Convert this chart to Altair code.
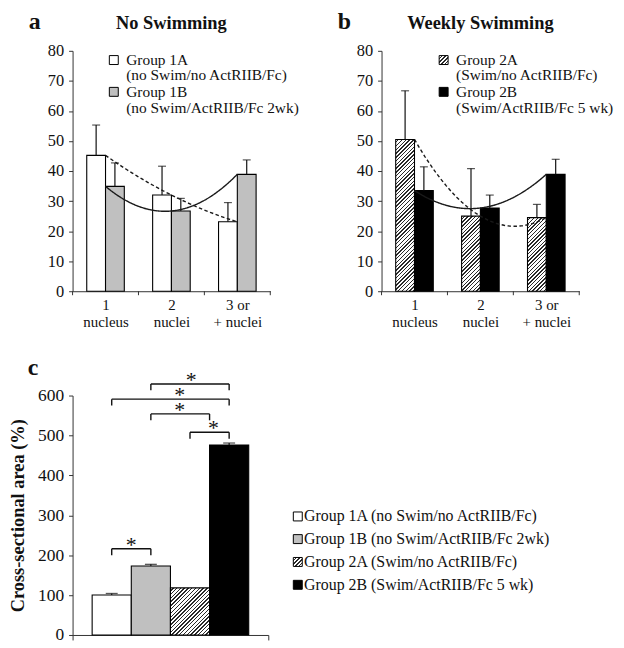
import json
import altair as alt
import pandas as pd

FONT = "Liberation Serif"
INK = "#111111"
AXIS_INK = "#333333"
GRAY = "#c0c0c0"

# ---------------- data ----------------
categories = ["1\nnucleus", "2\nnuclei", "3 or\n+ nuclei"]
category_index = [1, 2, 3]
category_bounds = [0.5, 1.5, 2.5, 3.5]

names_a = ["Group 1A", "Group 1B"]
names_b = ["Group 2A", "Group 2B"]

g1a_mean = [45.2, 32.0, 23.1]
g1a_upper = [55.3, 41.6, 29.5]
g1b_mean = [34.9, 26.7, 38.9]
g1b_upper = [42.7, 30.9, 43.7]
g2a_mean = [50.5, 25.0, 24.5]
g2a_upper = [66.7, 40.8, 28.9]
g2b_mean = [33.5, 27.7, 38.9]
g2b_upper = [41.4, 32.0, 43.9]

legend_a = [["Group 1A", "(no Swim/no ActRIIB/Fc)"], ["Group 1B", "(no Swim/ActRIIB/Fc 2wk)"]]
legend_b = [["Group 2A", "(Swim/no ActRIIB/Fc)"], ["Group 2B", "(Swim/ActRIIB/Fc 5 wk)"]]

csa_groups = [
    "Group 1A (no Swim/no ActRIIB/Fc)",
    "Group 1B (no Swim/ActRIIB/Fc 2wk)",
    "Group 2A (Swim/no ActRIIB/Fc)",
    "Group 2B (Swim/ActRIIB/Fc 5 wk)",
]
csa_index = [1, 2, 3, 4]
csa_mean = [100, 173, 118, 476]
csa_upper = [104, 177, 118, 481]

bracket_from = [2, 1, 2, 3, 1]
bracket_to = [4, 4, 3.5, 4, 2]
bracket_y = [629, 591, 554, 508, 216]
star_x = [3.03, 2.74, 2.74, 3.6, 1.5]

# ---------------- layout constants ----------------
AB_W, AB_H = 199, 242
C_W, C_H = 197, 241
BW = 0.285  # bar width in category units (panels a, b)


def hatch(w, h, period=3.8, ink_frac=0.38, ink="#2a2a2a"):
    L = w + h
    s = w * L / (w * w + h * h)
    stops = []
    k = 0
    while k * period < L:
        t0 = k * period / L
        t1 = min((k + 1 - ink_frac) * period / L, 1.0)
        t2 = min((k + 1) * period / L, 1.0)
        stops += [
            {"offset": t0, "color": "white"},
            {"offset": t1, "color": "white"},
            {"offset": t1, "color": ink},
            {"offset": t2, "color": ink},
        ]
        k += 1
    return {"gradient": "linear", "x1": 0, "y1": 0, "x2": s, "y2": s * h / w, "stops": stops}


def note(text, x, y, size, weight="normal", align="left", baseline="alphabetic"):
    return alt.Chart(alt.Data(values=[{}])).mark_text(
        text=text, font=FONT, fontSize=size, fontWeight=weight, align=align,
        baseline=baseline, color=INK
    ).encode(x=alt.value(x), y=alt.value(y))


def swatch(x, y, fill, side=9):
    return alt.Chart(alt.Data(values=[{}])).mark_square(
        size=side * side, fill=fill, stroke="black", strokeWidth=1, opacity=1
    ).encode(x=alt.value(x), y=alt.value(y))


cat_lines = json.dumps([c.split("\n") for c in categories])


def nuclei_panel(names, means, uppers, fills, letter, title, legend_lines, leg_x):
    rows = []
    for si, (name, m_list, u_list) in enumerate(zip(names, means, uppers)):
        for idx, m, u in zip(category_index, m_list, u_list):
            rows.append(dict(pos=idx, si=si, series=name, mean=m, upper=u))
    df = pd.DataFrame(rows)
    base = alt.Chart(df)
    placed = base.transform_calculate(
        x0=f"datum.pos - {BW} + datum.si * {BW}",
        x1=f"datum.pos + datum.si * {BW}",
        xc=f"datum.pos - {BW / 2} + datum.si * {BW}",
    )
    xscale = alt.Scale(domain=[0.5, 3.5], nice=False, zero=False)
    xaxis = alt.Axis(title=None, values=category_index, ticks=False, labelAngle=0,
                     labelExpr=f"{cat_lines}[datum.value - 1]",
                     labelFont=FONT, labelFontSize=15, labelLineHeight=18, labelColor=INK,
                     domainColor=AXIS_INK, labelPadding=6, labelBaseline="top")
    yscale = alt.Scale(domain=[0, 80], nice=False)
    yaxis = alt.Axis(title=None, values=list(range(0, 81, 10)), labelFont=FONT,
                     labelFontSize=16.5, labelColor=INK, tickSize=4, labelPadding=5,
                     labelOverlap=False, domainColor=AXIS_INK, tickColor=AXIS_INK)
    y = alt.Y("mean:Q", scale=yscale, axis=yaxis)
    bar_w = AB_W / 3 * BW
    layers = []
    for name, fill, m_list in zip(names, fills, means):
        if fill == "hatch":
            for idx, m in zip(category_index, m_list):
                layers.append(
                    placed.transform_filter((alt.datum.series == name) & (alt.datum.pos == idx))
                    .mark_bar(fill=hatch(bar_w, m * AB_H / 80), stroke="black", strokeWidth=1.1)
                    .encode(x=alt.X("x0:Q", scale=xscale, axis=xaxis), x2="x1:Q",
                            y=y, y2=alt.datum(0))
                )
        else:
            layers.append(
                placed.transform_filter(alt.datum.series == name)
                .mark_bar(fill=fill, stroke="black", strokeWidth=1.1)
                .encode(x=alt.X("x0:Q", scale=xscale, axis=xaxis), x2="x1:Q",
                        y=y, y2=alt.datum(0))
            )
    rule = placed.mark_rule(color=INK, strokeWidth=1.2).encode(
        x=alt.X("xc:Q", scale=xscale, axis=xaxis), y=y, y2="upper:Q")
    cap = placed.mark_tick(color=INK, thickness=1.2, size=8, orient="horizontal").encode(
        x=alt.X("xc:Q", scale=xscale, axis=xaxis), y=alt.Y("upper:Q", scale=yscale, axis=yaxis))
    bticks = alt.Chart(pd.DataFrame({"b": category_bounds})).mark_rule(
        color=AXIS_INK, strokeWidth=1).encode(
        x=alt.X("b:Q", scale=xscale, axis=xaxis), y=alt.value(AB_H), y2=alt.value(AB_H + 4))
    trends = []
    for name, dash in zip(names, [[3.5, 2.5], [1, 0]]):
        trends.append(
            base.transform_filter(alt.datum.series == name)
            .transform_regression("pos", "mean", method="poly", order=2, extent=[1, 3],
                                  as_=["tx", "ty"])
            .mark_line(color="#1a1a1a", strokeWidth=1.4, strokeDash=dash)
            .encode(x=alt.X("tx:Q", scale=xscale, axis=xaxis),
                    y=alt.Y("ty:Q", scale=yscale, axis=yaxis),
                    order=alt.Order("tx:Q"))
        )
    deco = [
        note(letter, -44, -22, 24, "bold"),
        note(title, AB_W / 2, -22, 18.5, "bold", align="center"),
    ]
    rows_y = [(9.3, 24.7), (41.3, 58.0)]
    for (l1, l2), (y1, y2), fill in zip(legend_lines, rows_y, fills):
        f = hatch(9, 9) if fill == "hatch" else fill
        deco.append(swatch(leg_x, y1, f))
        deco.append(note(l1, leg_x + 12.5, y1, 15.5, baseline="middle"))
        deco.append(note(l2, leg_x + 12.5, y2, 15.5, baseline="middle"))
    return alt.layer(*layers, rule, cap, bticks, *trends, *deco).properties(width=AB_W, height=AB_H)


panel_a = nuclei_panel(names_a, [g1a_mean, g1b_mean], [g1a_upper, g1b_upper], ["white", GRAY],
                       "a", "No Swimming", legend_a, 41.5)
panel_b = nuclei_panel(names_b, [g2a_mean, g2b_mean], [g2a_upper, g2b_upper], ["hatch", "black"],
                       "b", "Weekly Swimming", legend_b, 62.5)

# ---------------- panel c ----------------
cdf = pd.DataFrame({"grp": csa_groups, "idx": csa_index, "mean": csa_mean, "upper": csa_upper})
cbase = alt.Chart(cdf).transform_calculate(x0="datum.idx - 0.5", x1="datum.idx + 0.5")
cscale = alt.Scale(domain=[0, 5], nice=False, zero=False)
caxis = alt.Axis(title=None, labels=False, values=[0, 5], tickSize=5,
                 domainColor=AXIS_INK, tickColor=AXIS_INK)
cyscale = alt.Scale(domain=[0, 600], nice=False)
cyaxis = alt.Axis(title="Cross-sectional area (%)", values=list(range(0, 601, 100)),
                  labelFont=FONT, labelFontSize=17.5, labelColor=INK, tickSize=4,
                  labelPadding=5, labelOverlap=False, domainColor=AXIS_INK,
                  tickColor=AXIS_INK,
                  titleFont=FONT, titleFontSize=18.5, titleFontWeight="bold",
                  titleColor=INK, titleX=-55, titleY=C_H / 2, titleAngle=270,
                  titleAlign="center", titleBaseline="middle")
cy = alt.Y("mean:Q", scale=cyscale, axis=cyaxis)
c_fills = ["white", GRAY, "hatch", "black"]
cbar_w = C_W / 5
c_layers = []
for g, f, m in zip(csa_groups, c_fills, csa_mean):
    fill = hatch(cbar_w, m * C_H / 600) if f == "hatch" else f
    c_layers.append(
        cbase.transform_filter(alt.datum.grp == g)
        .mark_bar(fill=fill, stroke="black", strokeWidth=1.1)
        .encode(x=alt.X("x0:Q", scale=cscale, axis=caxis), x2="x1:Q", y=cy, y2=alt.datum(0))
    )
c_err = cbase.transform_filter(alt.datum.upper > alt.datum.mean)
c_rule = c_err.mark_rule(color=INK, strokeWidth=1.2).encode(
    x=alt.X("idx:Q", scale=cscale, axis=caxis), y=cy, y2="upper:Q")
c_cap = c_err.mark_tick(color=INK, thickness=1.3, size=12, orient="horizontal").encode(
    x=alt.X("idx:Q", scale=cscale, axis=caxis), y=alt.Y("upper:Q", scale=cyscale, axis=cyaxis))

c_deco = [note("c", -45, -21, 24, "bold")]
leg_rows = [121.7, 144.5, 167.5, 190.5]
for g, f, yy in zip(csa_groups, c_fills, leg_rows):
    ff = hatch(9, 9) if f == "hatch" else f
    c_deco.append(swatch(226.7, yy, ff))
    c_deco.append(note(g, 233, yy, 16, baseline="middle"))

bdf = pd.DataFrame({"from": bracket_from, "to": bracket_to, "y": bracket_y, "sx": star_x})
hbar = alt.Chart(bdf).mark_rule(color=INK, strokeWidth=1.4).encode(
    x=alt.X("from:Q", scale=cscale, axis=caxis), x2="to:Q",
    y=alt.Y("y:Q", scale=cyscale, axis=cyaxis))
legs = alt.Chart(bdf).transform_fold(["from", "to"], as_=["end", "xpos"]).transform_calculate(
    ylow="datum.y - 16").mark_rule(color=INK, strokeWidth=1.4).encode(
    x=alt.X("xpos:Q", scale=cscale, axis=caxis), y=alt.Y("y:Q", scale=cyscale, axis=cyaxis),
    y2="ylow:Q")
stars = alt.Chart(bdf).mark_text(text="*", font=FONT, fontSize=22, color=INK, baseline="alphabetic",
                                 dy=3).encode(
    x=alt.X("sx:Q", scale=cscale, axis=caxis), y=alt.Y("y:Q", scale=cyscale, axis=cyaxis))

panel_c = alt.layer(*c_layers, c_rule, c_cap, hbar, legs, stars, *c_deco).properties(
    width=C_W, height=C_H)

chart = alt.concat(
    panel_a, panel_b, panel_c,
    columns=2,
    spacing={"row": 105, "column": 112},
    bounds="flush",
).properties(
    padding={"left": 0, "top": 0, "right": 2, "bottom": 0}, background="white"
).configure_view(stroke=None).configure_axis(grid=False)

chart.save("out.html", embed_options={"renderer": "svg", "actions": False})
